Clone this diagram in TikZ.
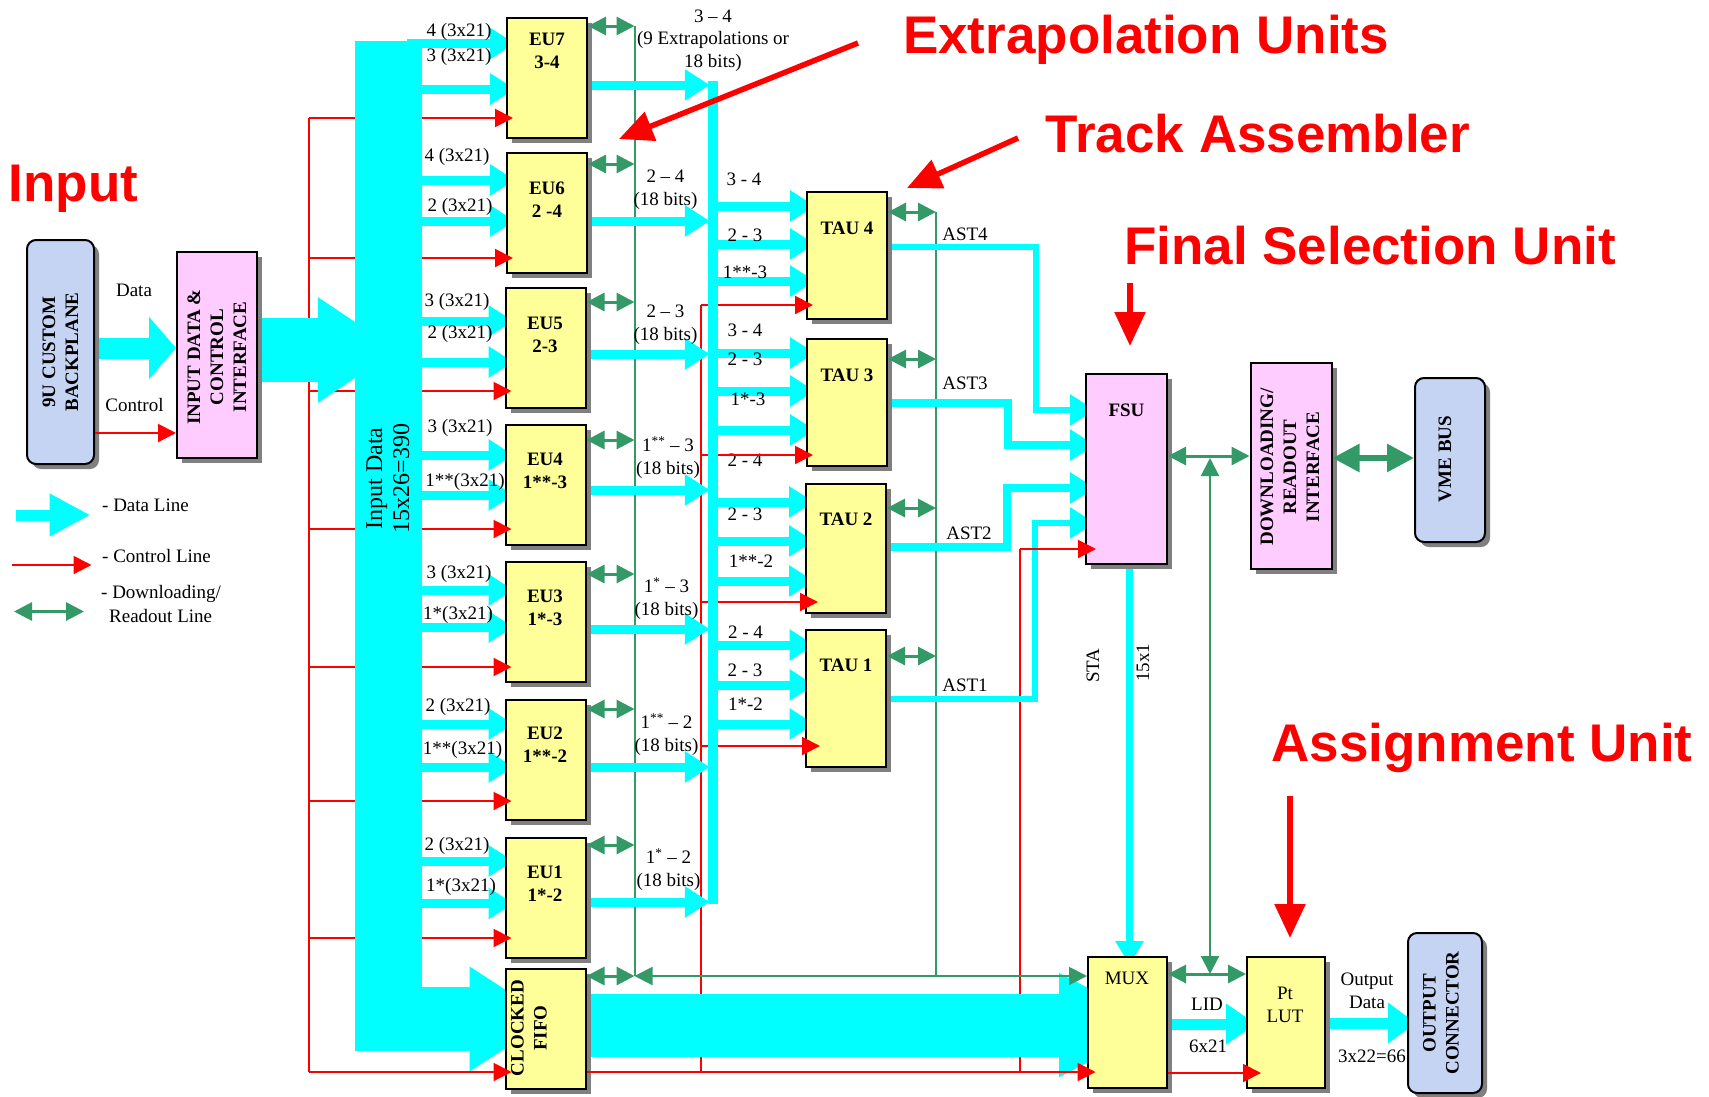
\documentclass[tikz,border=0pt]{standalone}
\usepackage{fontspec}
\setmainfont{Liberation Serif}
\newfontfamily\headfont{Liberation Sans}
\usetikzlibrary{arrows.meta, positioning, shadows}
\definecolor{datacyan}{RGB}{0,255,255}
\definecolor{ctrlred}{RGB}{255,0,0}
\definecolor{dlgreen}{RGB}{51,153,102}
\definecolor{euyellow}{RGB}{255,255,153}
\definecolor{fsupink}{RGB}{255,204,255}
\definecolor{texblue}{RGB}{198,212,244}
\definecolor{shadowgray}{RGB}{128,128,128}
\pgfdeclarelayer{wires}
\pgfdeclarelayer{fat}
\pgfdeclarelayer{tips}
\pgfsetlayers{wires,fat,main,tips}

\begin{document}
\begin{tikzpicture}[
        x=1pt, y=-1pt,
        block/.style={draw=black, line width=2pt, inner sep=0pt, text=black,
            drop shadow={shadow xshift=5pt, shadow yshift=-5pt, fill=shadowgray, opacity=1}},
        eubox/.style={block, fill=euyellow, minimum width=80pt, minimum height=120pt},
        taubox/.style={block, fill=euyellow, minimum width=80pt},
        pinkbox/.style={block, fill=fsupink},
        texbox/.style={block, fill=texblue, rounded corners=9pt},
        txt/.style={font={\fontsize{19}{23}\selectfont}, inner sep=0pt, align=center, text=black, yshift=-1.5pt},
        bits/.style={txt, yshift=-1.5pt},
        boldtxt/.style={font={\fontsize{19}{23}\selectfont\bfseries}, inner sep=0pt, align=center, text=black},
        sidetxt/.style={boldtxt, rotate=90},
        head/.style={font={\fontsize{53}{60}\selectfont\headfont\bfseries}, inner sep=0pt, text=ctrlred},
        busbar/.style={fill=datacyan, inner sep=0pt},
        data/.style={datacyan, line width=9pt, -{Triangle[length=25pt,width=30pt]}},
        ast/.style={datacyan, line width=6pt, miter limit=10, -{Triangle[length=25pt,width=30pt]}},
        wire/.style={ctrlred, line width=2pt},
        ctrl/.style={ctrlred, line width=2pt, -{Triangle[length=18pt,width=18pt]}},
        rail/.style={dlgreen, line width=2pt},
        dl/.style={dlgreen, line width=3pt, {Triangle[length=18pt,width=18pt]}-{Triangle[length=18pt,width=18pt]}},
        callout/.style={ctrlred, line width=5.5pt, -{Triangle[length=34pt,width=30pt]}},
    ]
    \useasboundingbox (0,0) rectangle (1709,1096);

    % blocks
    \node[texbox, minimum width=67pt, minimum height=224pt] (backplane) at (60.5,352) {};
    \node[pinkbox, minimum width=80pt, minimum height=206pt] (iface) at (217,355) {};
    \node[busbar, minimum width=67pt, minimum height=1010pt] (bus) at (388.5,546) {};
    \node[busbar, minimum width=10pt, minimum height=823pt] (tbus) at (713,492) {};

    \node[eubox] (eu7) at (547,78) {};
    \node[eubox] (eu6) at (547,213) {};
    \node[eubox] (eu5) at (545.5,348) {};
    \node[eubox] (eu4) at (545.5,484.5) {};
    \node[eubox] (eu3) at (545.5,621.5) {};
    \node[eubox] (eu2) at (545.5,759.5) {};
    \node[eubox] (eu1) at (545.5,898) {};
    \node[eubox] (fifo) at (545.5,1028.5) {};

    \node[taubox, minimum height=127pt] (tau4) at (847,255.5) {};
    \node[taubox, minimum height=127pt] (tau3) at (847,402.5) {};
    \node[taubox, minimum height=129pt] (tau2) at (846,548) {};
    \node[taubox, minimum height=137pt] (tau1) at (846,698.5) {};

    \node[pinkbox, minimum width=81pt, minimum height=190pt] (fsu) at (1126.5,469) {};
    \node[pinkbox, minimum width=81pt, minimum height=206pt] (readout) at (1291,466) {};
    \node[texbox, minimum width=70pt, minimum height=164pt] (vme) at (1450,460) {};
    \node[eubox, minimum width=79pt, minimum height=131pt] (mux) at (1127.5,1022.5) {};
    \node[eubox, minimum width=78pt, minimum height=131pt] (lut) at (1286,1022.5) {};
    \node[texbox, minimum width=74pt, minimum height=160pt] (outconn) at (1445,1013) {};

    % free ends
    \coordinate (redone) at (309,118);
    \coordinate (redonebot) at (309,1072);
    \coordinate (redtwo) at (701,305);
    \coordinate (redtwobot) at (701,1072);
    \coordinate (redthree) at (1020,549);
    \coordinate (redthreebot) at (1020,1072);
    \coordinate (railone) at (634.5,26);
    \coordinate (railonebot) at (634.5,976);
    \coordinate (railtwo) at (936,212);
    \coordinate (railtwobot) at (936,976);
    \coordinate (railthree) at (1210,458);
    \coordinate (railthreebot) at (1210,974);

    % wires under everything
    \begin{pgfonlayer}{wires}
        \draw[wire] (redone) -- (redonebot);
        \draw[wire] (redtwo) -- (redtwobot);
        \draw[wire] (redthreebot) -- (redthree);
        \draw[wire] (redone) -- (bus.west |- redone);
        \draw[wire] (bus.west |- 0,258) -- (309,258);
        \draw[wire] (bus.west |- 0,391) -- (309,391);
        \draw[wire] (bus.west |- 0,529) -- (309,529);
        \draw[wire] (bus.west |- 0,667) -- (309,667);
        \draw[wire] (bus.west |- 0,801) -- (309,801);
        \draw[wire] (bus.west |- 0,938) -- (309,938);
        \draw[wire] (redtwo) -- (tbus.west |- redtwo);
        \draw[wire] (tbus.west |- 0,455) -- (701,455);
        \draw[wire] (tbus.west |- 0,602) -- (701,602);
        \draw[wire] (tbus.west |- 0,746) -- (701,746);
        \draw[rail] (railone) -- (railonebot);
        \draw[rail] (railtwo) -- (railtwobot);
    \end{pgfonlayer}

    % data lines
    \begin{pgfonlayer}{fat}
        \draw[datacyan, line width=21pt, -{Triangle[length=27pt,width=61pt]}] (backplane.east |- 0,348) -- (iface.west |- 0,348);
        \draw[datacyan, line width=64pt, -{Triangle[length=80pt,width=100pt]}] (iface.east |- 0,350) -- ([xshift=43pt]bus.west |- 0,350);

        \draw[data] ([xshift=-15pt]bus.east |- 0,43.5) -- ([xshift=9pt]eu7.west |- 0,43.5);
        \draw[data] (bus.east |- 0,89) -- ([xshift=9pt]eu7.west |- 0,89);
        \draw[data] (bus.east |- 0,180) -- ([xshift=9pt]eu6.west |- 0,180);
        \draw[data] (bus.east |- 0,221) -- ([xshift=9pt]eu6.west |- 0,221);
        \draw[data] (bus.east |- 0,321) -- ([xshift=9pt]eu5.west |- 0,321);
        \draw[data] (bus.east |- 0,362) -- ([xshift=9pt]eu5.west |- 0,362);
        \draw[data] (bus.east |- 0,455) -- ([xshift=9pt]eu4.west |- 0,455);
        \draw[data] (bus.east |- 0,495) -- ([xshift=9pt]eu4.west |- 0,495);
        \draw[data] (bus.east |- 0,590) -- ([xshift=9pt]eu3.west |- 0,590);
        \draw[data] (bus.east |- 0,627) -- ([xshift=9pt]eu3.west |- 0,627);
        \draw[data] (bus.east |- 0,724) -- ([xshift=9pt]eu2.west |- 0,724);
        \draw[data] (bus.east |- 0,767) -- ([xshift=9pt]eu2.west |- 0,767);
        \draw[data] (bus.east |- 0,861) -- ([xshift=9pt]eu1.west |- 0,861);
        \draw[data] (bus.east |- 0,903.5) -- ([xshift=9pt]eu1.west |- 0,903.5);
        \draw[datacyan, line width=64pt, -{Triangle[length=82pt,width=99pt]}] ([xshift=-10pt]bus.east |- 0,1019) -- ([xshift=47pt]fifo.west |- 0,1019);

        \draw[data] (eu7.east |- 0,85) -- ([xshift=2pt]tbus.west |- 0,85);
        \draw[data] (eu6.east |- 0,221) -- ([xshift=2pt]tbus.west |- 0,221);
        \draw[data] (eu5.east |- 0,354) -- ([xshift=2pt]tbus.west |- 0,354);
        \draw[data] (eu4.east |- 0,490) -- ([xshift=2pt]tbus.west |- 0,490);
        \draw[data] (eu3.east |- 0,629) -- ([xshift=2pt]tbus.west |- 0,629);
        \draw[data] (eu2.east |- 0,767) -- ([xshift=2pt]tbus.west |- 0,767);
        \draw[data] (eu1.east |- 0,902) -- ([xshift=2pt]tbus.west |- 0,902);

        \draw[data] (tbus.east |- 0,206) -- ([xshift=9pt]tau4.west |- 0,206);
        \draw[data] (tbus.east |- 0,244) -- ([xshift=9pt]tau4.west |- 0,244);
        \draw[data] (tbus.east |- 0,281) -- ([xshift=9pt]tau4.west |- 0,281);
        \draw[data] (tbus.east |- 0,353) -- ([xshift=9pt]tau3.west |- 0,353);
        \draw[data] (tbus.east |- 0,391) -- ([xshift=9pt]tau3.west |- 0,391);
        \draw[data] (tbus.east |- 0,430) -- ([xshift=9pt]tau3.west |- 0,430);
        \draw[data] (tbus.east |- 0,502) -- ([xshift=9pt]tau2.west |- 0,502);
        \draw[data] (tbus.east |- 0,541) -- ([xshift=9pt]tau2.west |- 0,541);
        \draw[data] (tbus.east |- 0,581) -- ([xshift=9pt]tau2.west |- 0,581);
        \draw[data] (tbus.east |- 0,645) -- ([xshift=9.5pt]tau1.west |- 0,645);
        \draw[data] (tbus.east |- 0,685) -- ([xshift=9.5pt]tau1.west |- 0,685);
        \draw[data] (tbus.east |- 0,724) -- ([xshift=9.5pt]tau1.west |- 0,724);

        \draw[ast] (tau4.east |- 0,247) -- (1036,247) -- (1036,410) -- ([xshift=10pt]fsu.west |- 0,410);
        \draw[ast, line width=8.5pt] (tau3.east |- 0,403) -- (1008,403) -- (1008,445) -- ([xshift=10pt]fsu.west |- 0,445);
        \draw[ast, line width=8.5pt] (tau2.east |- 0,547) -- (1007,547) -- (1007,488) -- ([xshift=10pt]fsu.west |- 0,488);
        \draw[ast] (tau1.east |- 0,698.5) -- (1034.5,698.5) -- (1034.5,523) -- ([xshift=10pt]fsu.west |- 0,523);

        \draw[datacyan, line width=63pt, -{Triangle[length=103pt,width=96pt]}] (fifo.east |- 0,1025) -- ([xshift=75pt]mux.west |- 0,1025);
        \draw[datacyan, line width=6.5pt, -{Triangle[length=24pt,width=27pt]}] ([xshift=3pt]fsu.south) -- ([xshift=3pt,yshift=-9pt]fsu.south |- mux.north);
        \draw[datacyan, line width=11pt, -{Triangle[length=30pt,width=39pt]}] (mux.east |- 0,1024) -- ([xshift=10pt]lut.west |- 0,1024);
        \draw[datacyan, line width=11pt, -{Triangle[length=28pt,width=39pt]}] (lut.east |- 0,1023) -- ([xshift=9pt]outconn.west |- 0,1023);
    \end{pgfonlayer}

    % control and downloading lines on top of the blocks
    \begin{pgfonlayer}{tips}
        \draw[ctrl] (backplane.east |- 0,433) -- (iface.west |- 0,433);
        \draw[ctrl] (bus.east |- redone) -- ([xshift=7pt]eu7.west |- redone);
        \draw[ctrl] (bus.east |- 0,258) -- ([xshift=7pt]eu6.west |- 0,258);
        \draw[ctrl] (bus.east |- 0,391) -- ([xshift=7pt]eu5.west |- 0,391);
        \draw[ctrl] (bus.east |- 0,529) -- ([xshift=7pt]eu4.west |- 0,529);
        \draw[ctrl] (bus.east |- 0,667) -- ([xshift=7pt]eu3.west |- 0,667);
        \draw[ctrl] (bus.east |- 0,801) -- ([xshift=7pt]eu2.west |- 0,801);
        \draw[ctrl] (bus.east |- 0,938) -- ([xshift=7pt]eu1.west |- 0,938);
        \draw[ctrl] (redonebot) -- ([xshift=7pt]fifo.west |- redonebot);
        \draw[ctrl] (tbus.east |- redtwo) -- ([xshift=7pt]tau4.west |- redtwo);
        \draw[ctrl] (tbus.east |- 0,455) -- ([xshift=7pt]tau3.west |- 0,455);
        \draw[ctrl] (tbus.east |- 0,602) -- ([xshift=13pt]tau2.west |- 0,602);
        \draw[ctrl] (tbus.east |- 0,746) -- ([xshift=15pt]tau1.west |- 0,746);
        \draw[ctrl] (fifo.east |- 0,1072) -- ([xshift=8.5pt]mux.west |- 0,1072);
        \draw[ctrl] (redthree) -- ([xshift=11pt]fsu.west |- redthree);
        \draw[ctrl] (mux.east |- 0,1073) -- ([xshift=15pt]lut.west |- 0,1073);

        \draw[dl] (eu7.east |- railone) -- (railone);
        \draw[dl] (eu6.east |- 0,164) -- (railone |- 0,164);
        \draw[dl] (eu5.east |- 0,302) -- (railone |- 0,302);
        \draw[dl] (eu4.east |- 0,440) -- (railone |- 0,440);
        \draw[dl] (eu3.east |- 0,574) -- (railone |- 0,574);
        \draw[dl] (eu2.east |- 0,709) -- (railone |- 0,709);
        \draw[dl] (eu1.east |- 0,845) -- (railone |- 0,845);
        \draw[dl] (fifo.east |- railonebot) -- (railonebot);
        \draw[dl, line width=2pt] (railonebot) -- (mux.west |- railonebot);
        \draw[dl] (tau4.east |- railtwo) -- (railtwo);
        \draw[dl] (tau3.east |- 0,359) -- (railtwo |- 0,359);
        \draw[dl] (tau2.east |- 0,508) -- (railtwo |- 0,508);
        \draw[dl] (tau1.east |- 0,656) -- (railtwo |- 0,656);
        \draw[dl] (fsu.east |- 0,456) -- (readout.west |- 0,456);
        \draw[dl, line width=2pt] (railthree) -- (railthreebot);
        \draw[dl] (mux.east |- railthreebot) -- (lut.west |- railthreebot);
        \draw[dlgreen, line width=6pt, {Triangle[length=27pt,width=27pt]}-{Triangle[length=27pt,width=27pt]}] (readout.east |- 0,458) -- (vme.west |- 0,458);

        \coordinate (extrapfrom) at (858,43);
        \coordinate (extrapto) at (619,139);
        \coordinate (trackfrom) at (1018,138);
        \coordinate (trackto) at (907,188);
        \coordinate (finalfrom) at (1130,283);
        \coordinate (finalto) at (1130,346);
        \coordinate (assignfrom) at (1290,796);
        \coordinate (assignto) at (1290,938);
        \draw[callout] (extrapfrom) -- (extrapto);
        \draw[callout] (trackfrom) -- (trackto);
        \draw[callout] (finalfrom) -- (finalto);
        \draw[callout] (assignfrom) -- (assignto);
    \end{pgfonlayer}

    % block texts
    \node[sidetxt] (backplanetxt) at (60.5,352) {9U CUSTOM\\BACKPLANE};
    \node[sidetxt] (ifacetxt) at (217,357) {INPUT DATA \&\\CONTROL\\INTERFACE};
    \node[txt, rotate=90, font={\fontsize{24}{27}\selectfont}] (bustxt) at (388,477) {Input Data\\15x26=390};
    \node[boldtxt] (eu7txt) at (547,51) {EU7\\3-4};
    \node[boldtxt] (eu6txt) at (547,200) {EU6\\2 -4};
    \node[boldtxt] (eu5txt) at (545,335) {EU5\\2-3};
    \node[boldtxt] (eu4txt) at (545,471) {EU4\\1**-3};
    \node[boldtxt] (eu3txt) at (545,608) {EU3\\1*-3};
    \node[boldtxt] (eu2txt) at (545,745) {EU2\\1**-2};
    \node[boldtxt] (eu1txt) at (545,884) {EU1\\1*-2};
    \node[sidetxt] (fifotxt) at (529,1028) {CLOCKED\\FIFO};
    \node[boldtxt] (tau4txt) at (847,228) {TAU 4};
    \node[boldtxt] (tau3txt) at (847,375) {TAU 3};
    \node[boldtxt] (tau2txt) at (846,519) {TAU 2};
    \node[boldtxt] (tau1txt) at (846,665) {TAU 1};
    \node[boldtxt] (fsutxt) at (1126.5,410) {FSU};
    \node[sidetxt] (readouttxt) at (1290,467) {DOWNLOADING/\\READOUT\\INTERFACE};
    \node[sidetxt] (vmetxt) at (1445,459) {VME BUS};
    \node[txt] (muxtxt) at (1127,977) {MUX};
    \node[txt] (luttxt) at (1285,1003) {Pt\\LUT};
    \node[sidetxt] (outconntxt) at (1441,1013) {OUTPUT\\CONNECTOR};

    % line labels
    \node[txt] (lbldata) at (134,289) {Data};
    \node[txt] (lblctrl) at (134.5,403.5) {Control};
    \node[bits] (lbl7a) at (459,29) {4 (3x21)};
    \node[bits] (lbl7b) at (459,54) {3 (3x21)};
    \node[bits] (lbl6a) at (457,153.5) {4 (3x21)};
    \node[bits] (lbl6b) at (460,204) {2 (3x21)};
    \node[bits] (lbl5a) at (457,299) {3 (3x21)};
    \node[bits] (lbl5b) at (460,331) {2 (3x21)};
    \node[bits] (lbl4a) at (460,425) {3 (3x21)};
    \node[bits] (lbl4b) at (465,478.5) {1**(3x21)};
    \node[bits] (lbl3a) at (459,571) {3 (3x21)};
    \node[bits] (lbl3b) at (458,612) {1*(3x21)};
    \node[bits] (lbl2a) at (458,704) {2 (3x21)};
    \node[bits] (lbl2b) at (462.5,747) {1**(3x21)};
    \node[bits] (lbl1a) at (457,843) {2 (3x21)};
    \node[bits] (lbl1b) at (461,884) {1*(3x21)};

    \node[bits, font={\fontsize{19}{22.5}\selectfont}] (out7) at (713,37.5) {3 -- 4\\(9 Extrapolations or\\18 bits)};
    \node[bits] (out6) at (665.5,186.5) {2 -- 4\\(18 bits)};
    \node[bits] (out5) at (665.5,321.5) {2 -- 3\\(18 bits)};
    \node[bits] (out4) at (668,455) {1\textsuperscript{**} -- 3\\(18 bits)};
    \node[bits] (out3) at (666.5,596) {1\textsuperscript{*} -- 3\\(18 bits)};
    \node[bits] (out2) at (666.5,732) {1\textsuperscript{**} -- 2\\(18 bits)};
    \node[bits] (out1) at (668.5,867) {1\textsuperscript{*} -- 2\\(18 bits)};

    \node[txt] (in4a) at (744,177.5) {3 - 4};
    \node[txt] (in4b) at (745,234) {2 - 3};
    \node[txt] (in4c) at (745,271) {1**-3};
    \node[txt] (in3a) at (745,328.5) {3 - 4};
    \node[txt] (in3b) at (745,358) {2 - 3};
    \node[txt] (in3c) at (748,397.5) {1*-3};
    \node[txt] (in2a) at (745,459) {2 - 4};
    \node[txt] (in2b) at (745,512.5) {2 - 3};
    \node[txt] (in2c) at (751,559.5) {1**-2};
    \node[txt] (in1a) at (745.5,631) {2 - 4};
    \node[txt] (in1b) at (745,669) {2 - 3};
    \node[txt] (in1c) at (745.5,703) {1*-2};

    \node[txt] (ast4) at (965,233) {AST4};
    \node[txt] (ast3) at (965,382) {AST3};
    \node[txt] (ast2) at (969,532) {AST2};
    \node[txt] (ast1) at (965,684) {AST1};
    \node[txt, rotate=90] (lblsta) at (1093,664) {STA};
    \node[txt, rotate=90] (lblfif) at (1143,661) {15x1};
    \node[txt] (lbllid) at (1207,1003) {LID};
    \node[txt] (lblsix) at (1208,1045) {6x21};
    \node[txt] (lbloutput) at (1367,989) {Output\\Data};
    \node[txt] (lblthree) at (1372,1055) {3x22=66};

    % legend
    \coordinate (dataa) at (16,515);
    \coordinate (datab) at (90.5,515);
    \coordinate (ctrla) at (12,565);
    \coordinate (ctrlb) at (91.5,565);
    \coordinate (dla) at (14,611.5);
    \coordinate (dlb) at (84,611.5);
    \draw[datacyan, line width=11pt, -{Triangle[length=41pt,width=40pt]}] (dataa) -- (datab);
    \draw[ctrl] (ctrla) -- (ctrlb);
    \draw[dl] (dla) -- (dlb);
    \node[txt, anchor=west] (keydata) at (102,504) {- Data Line};
    \node[txt, anchor=west] (keyctrl) at (102,554) {- Control Line};
    \node[txt, anchor=west] (keydla) at (101,592) {- Downloading/};
    \node[txt, anchor=west] (keydlb) at (109,614) {Readout Line};

    % headings
    \node[head] (headinput) at (73.5,188.5) {Input};
    \node[head] (headextrap) at (1146,39.5) {Extrapolation Units};
    \node[head] (headtrack) at (1258,134) {Track Assembler};
    \node[head] (headfinal) at (1370,246) {Final Selection Unit};
    \node[head] (headassign) at (1482,747.5) {Assignment Unit};
\end{tikzpicture}
\end{document}
